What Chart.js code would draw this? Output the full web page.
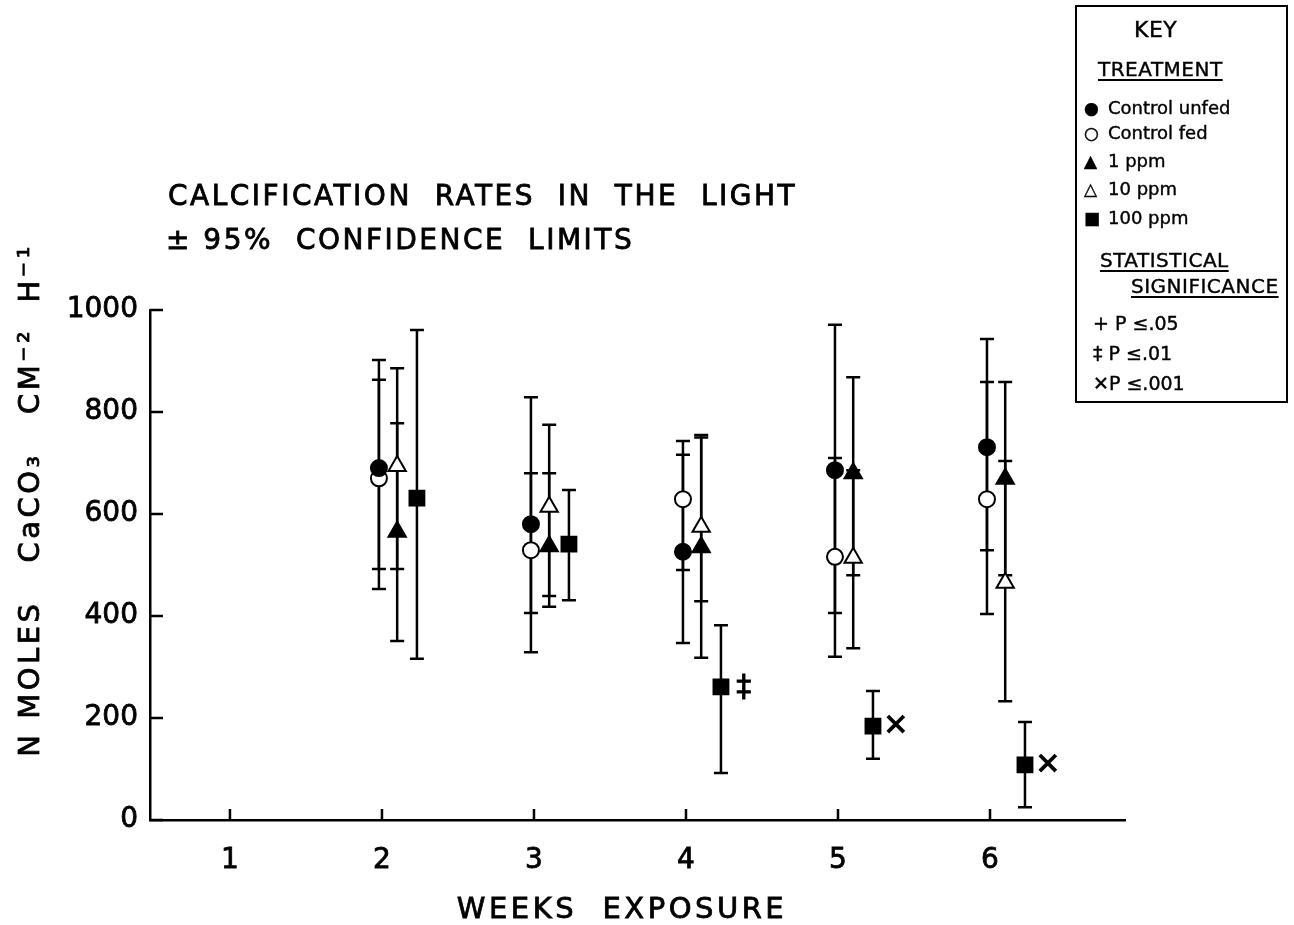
<!DOCTYPE html>
<html lang="en">
<head>
<meta charset="UTF-8">
<title>Calcification rates in the light</title>
<script src="https://cdn.jsdelivr.net/npm/chart.js"></script>
<style>
  html, body { margin: 0; padding: 0; background: #fff; }
  .wrap { position: relative; width: 1294px; height: 925px; }
  #key { position: absolute; left: 1075px; top: 5px; width: 209px; height: 394px;
         border: 2px solid #000; font-family: "DejaVu Sans", sans-serif; color: #000;
         -webkit-text-stroke: 0.4px #000; }
  #key div { position: absolute; line-height: 22px; white-space: nowrap; }
  #key .hd { font-size: 20px; letter-spacing: 0.5px; }
  #key .hd u { text-underline-offset: 3px; text-decoration-thickness: 2px; }
  #key .it { font-size: 18px; }
  #key .sym { display: inline-block; width: 24px; font-size: 17px; }
</style>
</head>
<body>
<div class="wrap">
  <canvas id="chart" width="1294" height="925"></canvas>
  <div id="key">
    <div class="hd" style="left:57px; top:12px; font-size:22px;">KEY</div>
    <div class="hd" style="left:21px; top:51px;"><u>TREATMENT</u></div>
    <div class="it" style="left:7px; top:90px;"><span class="sym">●</span>Control unfed</div>
    <div class="it" style="left:7px; top:115px;"><span class="sym">○</span>Control fed</div>
    <div class="it" style="left:7px; top:143px;"><span class="sym">▲</span>1 ppm</div>
    <div class="it" style="left:7px; top:171px;"><span class="sym">△</span>10 ppm</div>
    <div class="it" style="left:7px; top:200px;"><span class="sym">■</span>100 ppm</div>
    <div class="hd" style="left:23px; top:242px;"><u>STATISTICAL</u></div>
    <div class="hd" style="left:54px; top:268px;"><u>SIGNIFICANCE</u></div>
    <div class="it" style="left:16px; top:305px; font-size:19px;">+ P ≤.05</div>
    <div class="it" style="left:16px; top:335px; font-size:19px;">‡ P ≤.01</div>
    <div class="it" style="left:16px; top:365px; font-size:19px;">✕P ≤.001</div>
  </div>
</div>
<script>
// weeks of exposure and tick labels
const weeks = [2, 3, 4, 5, 6];
const weekTicks = [1, 2, 3, 4, 5, 6];
const yTicks = [0, 200, 400, 600, 800, 1000];

// means and 95% confidence limits, n moles CaCO3 cm-2 h-1
const unfedMean = [690, 580, 526, 686, 731];
const unfedLow  = [453, 329, 347, 406, 529];
const unfedHigh = [902, 829, 716, 971, 943];

const fedMean = [670, 529, 629, 516, 629];
const fedLow  = [492, 406, 490, 320, 404];
const fedHigh = [863, 680, 743, 710, 859];

const ppm1Mean = [565, 537, 535, 680, 669];
const ppm1Low  = [351, 418, 318, 480, 480];
const ppm1High = [778, 680, 755, 868, 859];

const ppm10Mean = [694, 614, 575, 514, 465];
const ppm10Low  = [492, 439, 429, 337, 233];
const ppm10High = [886, 775, 750, 686, 704];

const ppm100Mean = [631, 541, 261, 184, 108];
const ppm100Low  = [316, 431, 92, 120, 25];
const ppm100High = [961, 647, 382, 253, 192];

// significance of 100 ppm vs control
const sigWeeks = [4, 5, 6];
const sigSymbols = ['‡', '✕', '✕'];

const FONT = '"DejaVu Sans", sans-serif';
const INK = '#000';

function series(label, mean, low, high, offset, style, fill, radius) {
    return {
        label: label,
        data: weeks.map((w, i) => ({ x: w + offset, y: mean[i] })),
        low: low,
        high: high,
        pointStyle: style,
        pointRadius: radius,
        pointHoverRadius: radius,
        pointBackgroundColor: fill,
        pointBorderColor: INK,
        pointBorderWidth: 2,
        showLine: false
    };
}

function drawText(ctx, text, x, y, size, spacing, align) {
    ctx.font = size + 'px ' + FONT;
    ctx.letterSpacing = spacing + 'px';
    ctx.textAlign = align || 'left';
    ctx.textBaseline = 'middle';
    ctx.fillStyle = INK;
    ctx.strokeStyle = INK;
    ctx.lineWidth = 0.8;
    ctx.fillText(text, x, y);
    ctx.strokeText(text, x, y);
}

// error bars with end caps, drawn under the markers
const errorBars = {
    id: 'errorBars',
    beforeDatasetsDraw(chart) {
        const ctx = chart.ctx;
        const y = chart.scales.y;
        ctx.save();
        ctx.strokeStyle = INK;
        ctx.lineWidth = 2.5;
        chart.data.datasets.forEach((ds, i) => {
            chart.getDatasetMeta(i).data.forEach((pt, j) => {
                const top = y.getPixelForValue(ds.high[j]);
                const bot = y.getPixelForValue(ds.low[j]);
                ctx.beginPath();
                ctx.moveTo(pt.x, top); ctx.lineTo(pt.x, bot);
                ctx.moveTo(pt.x - 7, top); ctx.lineTo(pt.x + 7, top);
                ctx.moveTo(pt.x - 7, bot); ctx.lineTo(pt.x + 7, bot);
                ctx.stroke();
            });
        });
        ctx.restore();
    }
};

// inward tick marks, titles, significance symbols
const decorations = {
    id: 'decorations',
    afterDraw(chart) {
        const ctx = chart.ctx;
        const xs = chart.scales.x, ys = chart.scales.y;
        const area = chart.chartArea;
        ctx.save();
        ctx.strokeStyle = INK;
        ctx.lineWidth = 2.5;
        ctx.beginPath();
        yTicks.forEach(v => {
            const py = ys.getPixelForValue(v);
            ctx.moveTo(area.left, py); ctx.lineTo(area.left + 13, py);
        });
        weekTicks.forEach(v => {
            const px = xs.getPixelForValue(v);
            ctx.moveTo(px, area.bottom); ctx.lineTo(px, area.bottom - 11);
        });
        ctx.stroke();

        sigWeeks.forEach((w, i) => {
            const j = weeks.indexOf(w);
            const px = xs.getPixelForValue(w + 0.38);
            const py = ys.getPixelForValue(ppm100Mean[j]);
            drawText(ctx, sigSymbols[i], px, py + 1, 30, 0, 'center');
        });

        drawText(ctx, 'CALCIFICATION  RATES  IN  THE  LIGHT', 168, 198, 28, 2.5, 'left');
        drawText(ctx, '± 95%  CONFIDENCE  LIMITS', 166, 242, 28, 2.5, 'left');
        drawText(ctx, 'WEEKS  EXPOSURE', 622, 910, 29, 3.5, 'center');

        ctx.translate(31, 500);
        ctx.rotate(-Math.PI / 2);
        drawText(ctx, 'N MOLES   CaCO₃   CM⁻²  H⁻¹', 0, 0, 29, 3.5, 'center');
        ctx.restore();
    }
};

new Chart(document.getElementById('chart'), {
    type: 'scatter',
    data: {
        datasets: [
            series('Control unfed', unfedMean, unfedLow, unfedHigh, -0.02, 'circle', INK, 8),
            series('Control fed', fedMean, fedLow, fedHigh, -0.02, 'circle', '#fff', 8),
            series('1 ppm', ppm1Mean, ppm1Low, ppm1High, 0.1, 'triangle', INK, 10),
            series('10 ppm', ppm10Mean, ppm10Low, ppm10High, 0.1, 'triangle', '#fff', 10),
            series('100 ppm', ppm100Mean, ppm100Low, ppm100High, 0.23, 'rect', INK, 10.5)
        ]
    },
    options: {
        responsive: false,
        animation: false,
        layout: { padding: { left: 0, top: 310, right: 169, bottom: 0 } },
        plugins: { legend: { display: false }, tooltip: { enabled: false } },
        scales: {
            x: {
                type: 'linear',
                min: 0.474,
                max: 6.888,
                afterFit: s => { s.height = 105; },
                afterBuildTicks: s => { s.ticks = weekTicks.map(v => ({ value: v })); },
                grid: { display: false, drawTicks: false },
                border: { display: true, color: INK, width: 2.5 },
                ticks: { padding: 24, color: INK, font: { family: FONT, size: 28 },
                         textStrokeColor: INK, textStrokeWidth: 0.8,
                         callback: v => String(v) }
            },
            y: {
                min: 0,
                max: 1000,
                afterFit: s => { s.width = 150; },
                afterBuildTicks: s => { s.ticks = yTicks.map(v => ({ value: v })); },
                grid: { display: false, drawTicks: false },
                border: { display: true, color: INK, width: 2.5 },
                ticks: { padding: 12, color: INK, font: { family: FONT, size: 28 },
                         textStrokeColor: INK, textStrokeWidth: 0.8,
                         callback: v => String(v) }
            }
        }
    },
    plugins: [errorBars, decorations]
});
</script>
</body>
</html>
